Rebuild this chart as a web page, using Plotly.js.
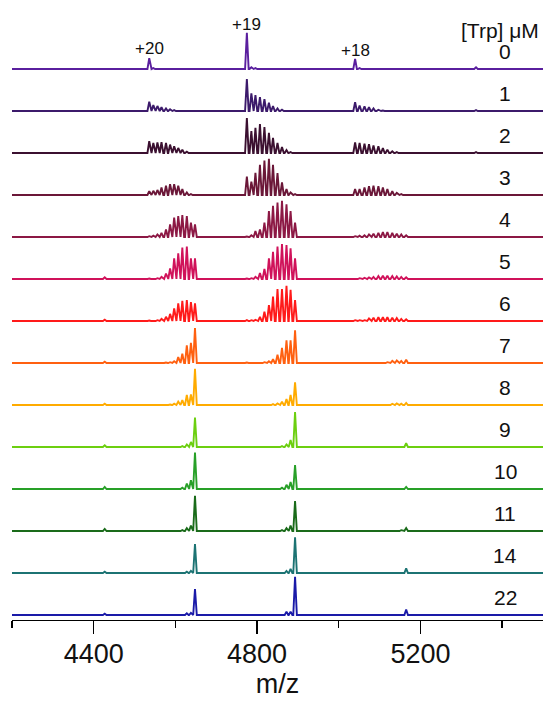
<!DOCTYPE html>
<html>
<head>
<meta charset="utf-8">
<script src="https://cdn.plot.ly/plotly-3.0.1.min.js"></script>
<style>
html,body{margin:0;padding:0;background:#fff;}
#chart{width:549px;height:701px;}
</style>
</head>
<body>
<div id="chart"></div>
<script>
// Trp concentrations (µM), one spectrum each, top to bottom
const concentrations = [0, 1, 2, 3, 4, 5, 6, 7, 8, 9, 10, 11, 14, 22];
const colors = ['#5a1f9e','#3c1a6b','#3b1030','#6b1738','#8c1844','#d0125a','#ff1a1a',
                '#ff6010','#ffab00','#6ccf10','#28a028','#1a6b1a','#1c7373','#1a1aa8'];

// m/z of the 0..11 Trp-adduct peaks for each charge state
const mz21 = [4320, 4330, 4339, 4349, 4359, 4369, 4378, 4388, 4398, 4407, 4417, 4427];
const mz20 = [4536, 4546, 4556, 4566, 4577, 4587, 4597, 4607, 4617, 4628, 4638, 4648];
const mz19 = [4775, 4786, 4796, 4807, 4818, 4829, 4839, 4850, 4861, 4872, 4882, 4893];
const mz18 = [5040, 5051, 5063, 5074, 5085, 5097, 5108, 5119, 5131, 5142, 5153, 5165];
const mz17apo = 5336;

// relative intensities (1 = spacing between stacked spectra), rows = concentrations
const int20 = [
  [0.26,0.02,0,0,0,0,0,0,0,0,0,0],
  [0.22,0.14,0.12,0.09,0.06,0.04,0.02,0,0,0,0,0],
  [0.28,0.24,0.25,0.26,0.24,0.20,0.16,0.12,0.08,0.03,0,0],
  [0.09,0.10,0.12,0.18,0.22,0.26,0.26,0.22,0.14,0.06,0.02,0],
  [0.02,0.03,0.06,0.10,0.18,0.30,0.46,0.50,0.52,0.50,0.34,0.30],
  [0.01,0.01,0.02,0.05,0.13,0.25,0.49,0.61,0.75,0.77,0.49,0.49],
  [0.01,0.01,0.02,0.05,0.10,0.17,0.30,0.42,0.48,0.50,0.45,0.42],
  [0,0,0,0,0.01,0.02,0.04,0.14,0.22,0.42,0.48,0.83],
  [0,0,0,0,0,0.01,0.03,0.08,0.12,0.24,0.25,0.86],
  [0,0,0,0,0,0,0,0,0.02,0.06,0.12,0.70],
  [0,0,0,0,0,0,0,0,0.03,0.13,0.21,0.87],
  [0,0,0,0,0,0,0,0,0.02,0.07,0.13,0.84],
  [0,0,0,0,0,0,0,0,0,0.03,0.05,0.69],
  [0,0,0,0,0,0,0,0,0,0.04,0.05,0.62]
];
const int19 = [
  [0.86,0.04,0.02,0,0,0,0,0,0,0,0,0],
  [0.76,0.42,0.38,0.33,0.28,0.20,0.12,0.06,0.03,0,0,0],
  [0.83,0.52,0.60,0.69,0.62,0.48,0.36,0.24,0.14,0.07,0.02,0],
  [0.44,0.32,0.53,0.72,0.82,0.86,0.72,0.52,0.30,0.14,0.06,0.02],
  [0.01,0.04,0.14,0.18,0.34,0.62,0.74,0.82,0.86,0.78,0.62,0.34],
  [0.01,0.02,0.05,0.14,0.24,0.49,0.65,0.77,0.83,0.81,0.73,0.49],
  [0.02,0.02,0.03,0.10,0.22,0.38,0.58,0.76,0.76,0.84,0.74,0.50],
  [0.01,0.01,0.01,0.01,0.02,0.04,0.09,0.20,0.36,0.54,0.54,0.78],
  [0,0,0,0,0,0,0.02,0.04,0.08,0.14,0.24,0.54],
  [0,0,0,0,0,0,0,0,0.02,0.06,0.17,0.83],
  [0,0,0,0,0,0,0,0,0.03,0.10,0.17,0.57],
  [0,0,0,0,0,0,0,0,0.02,0.07,0.13,0.71],
  [0,0,0,0,0,0,0,0,0,0.05,0.10,0.85],
  [0,0,0,0,0,0,0,0,0,0.08,0.08,0.91]
];
const int18 = [
  [0.24,0.02,0,0,0,0,0,0,0,0,0,0],
  [0.21,0.13,0.11,0.09,0.06,0.03,0.01,0,0,0,0,0],
  [0.25,0.24,0.22,0.21,0.18,0.16,0.12,0.08,0.04,0.02,0,0],
  [0.14,0.14,0.18,0.21,0.22,0.21,0.18,0.14,0.09,0.05,0.02,0],
  [0.02,0.03,0.04,0.06,0.08,0.10,0.12,0.12,0.10,0.08,0.06,0.04],
  [0.01,0.02,0.03,0.04,0.05,0.07,0.08,0.08,0.07,0.06,0.05,0.04],
  [0.02,0.02,0.02,0.06,0.08,0.09,0.09,0.09,0.08,0.07,0.05,0.04],
  [0,0,0,0,0,0,0.01,0.02,0.05,0.06,0.05,0.08],
  [0,0,0,0,0,0,0,0.01,0.03,0.04,0.03,0.05],
  [0,0,0,0,0,0,0,0,0,0,0.01,0.09],
  [0,0,0,0,0,0,0,0,0,0,0.01,0.05],
  [0,0,0,0,0,0,0,0,0,0,0.02,0.07],
  [0,0,0,0,0,0,0,0,0,0,0.01,0.11],
  [0,0,0,0,0,0,0,0,0,0,0.01,0.13]
];
// +21 fully bound peak (11 Trp) and +17 apo peak
const int21bound = [0,0,0,0,0,0.04,0.03,0.03,0.03,0.04,0.05,0.05,0.03,0.03];
const int17apo   = [0.04,0.02,0.02,0,0,0,0,0,0,0,0,0,0,0];

const chargeLabels = ['+20', '+19', '+18'];
const chargeLabelMz = [4536, 4775, 5040];
const axisTicks = [4400, 4800, 5200];

// ---- build traces ----
const XMIN = 4200, XMAX = 5500, HALF = 4.4;
const n = concentrations.length;
const traces = [];
for (let i = 0; i < n; i++) {
  const base = n - 1 - i;
  const peaks = [];
  for (let k = 0; k < 12; k++) {
    if (int20[i][k] > 0) peaks.push([mz20[k], int20[i][k]]);
    if (int19[i][k] > 0) peaks.push([mz19[k], int19[i][k]]);
    if (int18[i][k] > 0) peaks.push([mz18[k], int18[i][k]]);
  }
  if (int21bound[i] > 0) peaks.push([mz21[11], int21bound[i]]);
  if (int17apo[i] > 0) peaks.push([mz17apo, int17apo[i]]);
  peaks.sort((a, b) => a[0] - b[0]);
  const xs = [XMIN], ys = [base];
  peaks.forEach(p => {
    xs.push(p[0] - HALF, p[0], p[0] + HALF);
    ys.push(base, base + p[1], base);
  });
  xs.push(XMAX); ys.push(base);
  traces.push({
    x: xs, y: ys, type: 'scatter', mode: 'lines',
    line: {color: colors[i], width: 1.9},
    hoverinfo: 'skip', showlegend: false
  });
}

const FONT = 'Liberation Sans, Arial, sans-serif';
const annotations = [];
concentrations.forEach((c, i) => {
  annotations.push({
    x: 5407, y: (n - 1 - i) + 0.42, xref: 'x', yref: 'y',
    text: String(c), showarrow: false, xanchor: 'center', yanchor: 'middle',
    font: {family: FONT, size: 21, color: '#111'}
  });
});
const labelY = [13.5, 14.07, 13.45];
chargeLabels.forEach((t, j) => {
  annotations.push({
    x: chargeLabelMz[j], y: labelY[j], xref: 'x', yref: 'y',
    text: t, showarrow: false, xanchor: 'center', yanchor: 'middle',
    font: {family: FONT, size: 17, color: '#111'}
  });
});
annotations.push({
  x: 5395, y: 13.92, xref: 'x', yref: 'y', text: '[Trp] μM', showarrow: false,
  xanchor: 'center', yanchor: 'middle', font: {family: FONT, size: 21, color: '#111'}
});

const layout = {
  width: 549, height: 701,
  margin: {l: 12, r: 6, t: 0, b: 81},
  paper_bgcolor: '#fff', plot_bgcolor: '#fff',
  xaxis: {
    range: [XMIN, XMAX], showgrid: false, zeroline: false,
    showline: true, linecolor: '#000', linewidth: 1.4,
    ticks: 'outside', ticklen: 13, tickwidth: 1.4, tickcolor: '#000',
    tickmode: 'array', tickvals: axisTicks, ticktext: axisTicks.map(String),
    ticklabelstandoff: -4,
    tickfont: {family: FONT, size: 27, color: '#111'},
    minor: {dtick: 200, tick0: 4200, ticks: 'outside', ticklen: 7, tickwidth: 1.4, tickcolor: '#000', showgrid: false},
    title: {text: 'm/z', font: {family: FONT, size: 27, color: '#111'}, standoff: 4}
  },
  yaxis: {range: [-0.119, 14.643], visible: false, fixedrange: true},
  annotations: annotations
};

Plotly.newPlot('chart', traces, layout, {staticPlot: true, displayModeBar: false});
</script>
</body>
</html>
